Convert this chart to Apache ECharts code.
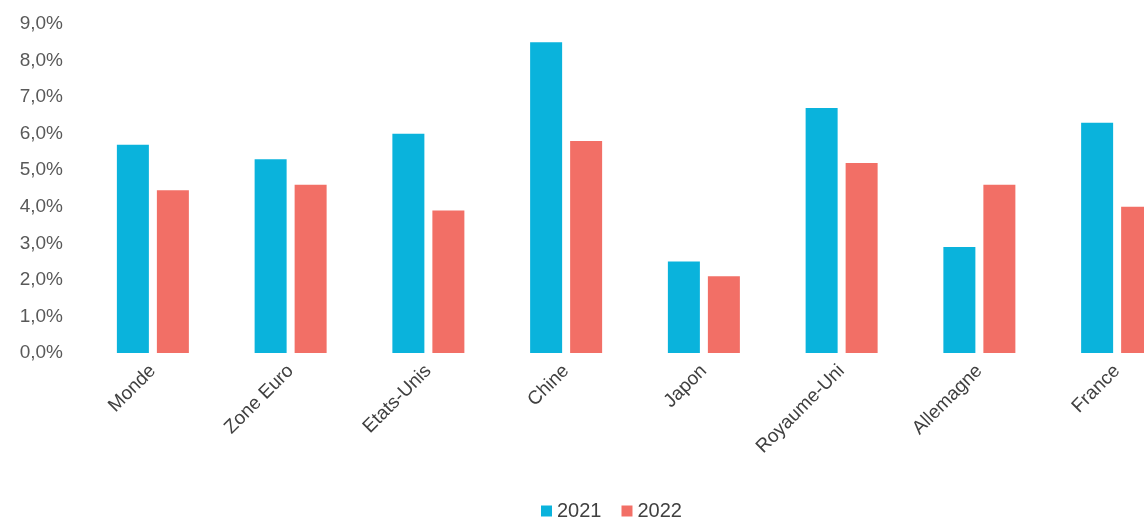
<!DOCTYPE html>
<html><head><meta charset="utf-8">
<script src="https://cdn.jsdelivr.net/npm/echarts@6/dist/echarts.min.js"></script>
<style>html,body{margin:0;padding:0;background:#fff}#c{width:1144px;height:526px}</style>
</head><body><div id="c"></div>
<script>
const categories = ['Monde','Zone Euro','Etats-Unis','Chine','Japon','Royaume-Uni','Allemagne','France'];
const values2021 = [5.7, 5.3, 6.0, 8.5, 2.5, 6.7, 2.9, 6.3];
const values2022 = [4.45, 4.6, 3.9, 5.8, 2.1, 5.2, 4.6, 4.0];
const seriesNames = ['2021','2022'];
const colors = ['#0AB3DC','#F26F66'];
const font = 'Liberation Sans, Arial, sans-serif';
const chart = echarts.init(document.getElementById('c'));
chart.setOption({
  animation:false,
  color: colors,
  grid:{left:84, width:1102, top:24, bottom:173, outerBoundsMode:'none'},
  legend:{
    data: seriesNames, bottom:0, left:536, itemWidth:11, itemHeight:11, itemGap:20,
    icon:'rect', textStyle:{fontFamily:font, fontSize:20, color:'#404040'}
  },
  xAxis:{
    type:'category', data:categories,
    axisLine:{show:false}, axisTick:{show:false},
    axisLabel:{rotate:45, fontFamily:font, fontSize:19, color:'#404040', margin:15, interval:0}
  },
  yAxis:{
    type:'value', min:0, max:9, interval:1,
    splitLine:{show:false}, axisLine:{show:false}, axisTick:{show:false},
    axisLabel:{fontFamily:font, fontSize:19, color:'#595959', margin:21,
      formatter: v => v.toFixed(1).replace('.', ',') + '%'}
  },
  series:[
    {name:seriesNames[0], type:'bar', data:values2021, barWidth:32, barGap:'25%'},
    {name:seriesNames[1], type:'bar', data:values2022, barWidth:32, barGap:'25%'}
  ]
});
</script></body></html>
